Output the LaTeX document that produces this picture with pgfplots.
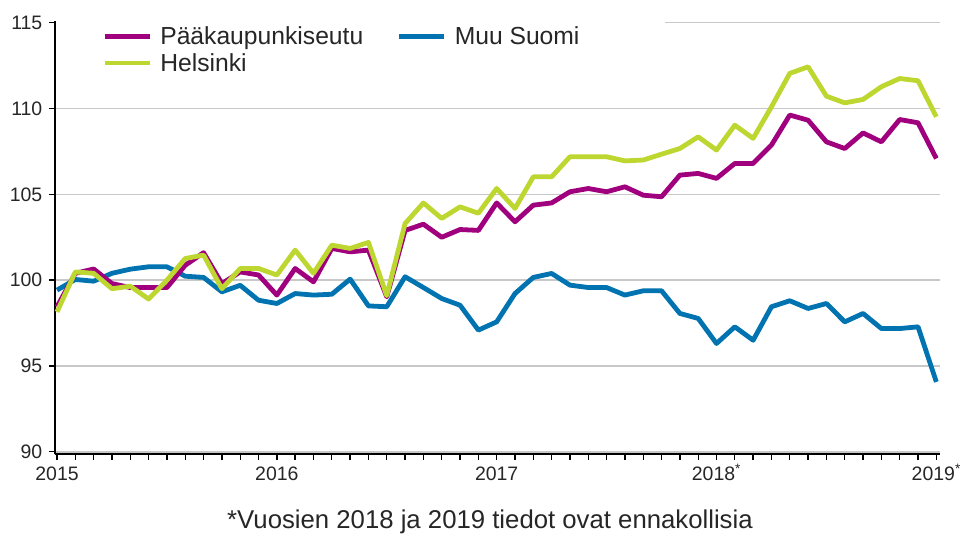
\documentclass[border=0pt]{standalone}
\usepackage{fontspec}
\setmainfont{Liberation Sans}
\usepackage{pgfplots}
\pgfplotsset{compat=1.18}
\definecolor{cPKS}{RGB}{160,0,125}
\definecolor{cHel}{RGB}{190,214,48}
\definecolor{cMuu}{RGB}{0,115,176}
\definecolor{cGrid}{RGB}{200,200,200}

\begin{document}
\begin{tikzpicture}
\useasboundingbox (0pt,0pt) rectangle (720.75pt,-402.75pt);
\begin{axis}[
  at={(41.25pt,-340.5pt)}, anchor=south west,
  scale only axis, width=663.75pt, height=324.75pt,
  xmin=-0.11, xmax=48.2, ymin=89.87, ymax=115.1,
  axis lines*=left,
  axis line style={line width=1.2pt, black, -},
  xtick={0,12,24,36,48},
  xticklabels={2015,2016,2017,2018\textsuperscript{*},2019\textsuperscript{*}},
  minor xtick={1,...,47},
  ytick={90,95,...,110},
  extra y ticks={115},
  extra y tick style={grid=none},
  ymajorgrids,
  grid style={cGrid, line width=1.1pt},
  tick align=outside,
  major tick length=4.5pt, minor tick length=4.5pt,
  tick style={black, line width=1pt},
  ticklabel style={font=\fontsize{14.6}{17}\selectfont, text=black!85},
  /pgf/number format/assume math mode=true,
  xticklabel style={yshift=-1pt, text height=11pt, text depth=1pt},
  yticklabel style={xshift=-1.5pt},
  legend columns=2,
  legend cell align=left,
  legend style={at={(0.05,1.0)}, anchor=north west, draw=none, fill=white,
    font=\fontsize{18.5}{20}\selectfont, column sep=4pt, row sep=1pt, inner sep=2pt,
    text=black!85,
    /tikz/every even column/.append style={column sep=23pt}},
  legend image code/.code={\draw[#1] (0pt,0pt) -- (34pt,0pt);},
]
\draw[cGrid, line width=1.1pt] (axis cs:33.2,115) -- (axis cs:48.2,115);

\addlegendimage{cPKS, line width=3.6pt}
\addlegendentry{Pääkaupunkiseutu}
\addlegendimage{cMuu, line width=3.6pt}
\addlegendentry{Muu Suomi}
\addlegendimage{cHel, line width=3.6pt}
\addlegendentry{Helsinki}

\addplot[cMuu, line width=3.6pt, forget plot, line join=round] table {
x y
0 99.42
1 100.04
2 99.94
3 100.4
4 100.64
5 100.78
6 100.78
7 100.23
8 100.16
9 99.32
10 99.7
11 98.83
12 98.64
13 99.22
14 99.13
15 99.18
16 100.06
17 98.5
18 98.45
19 100.2
20 99.57
21 98.93
22 98.54
23 97.09
24 97.57
25 99.22
26 100.16
27 100.39
28 99.71
29 99.57
30 99.57
31 99.13
32 99.38
33 99.38
34 98.06
35 97.77
36 96.31
37 97.28
38 96.5
39 98.45
40 98.8
41 98.35
42 98.64
43 97.57
44 98.06
45 97.18
46 97.18
47 97.28
48 94.07
};

\addplot[cPKS, line width=3.6pt, forget plot, line join=round] table {
x y
0 98.45
1 100.4
2 100.65
3 99.8
4 99.57
5 99.57
6 99.57
7 100.87
8 101.6
9 99.8
10 100.48
11 100.3
12 99.13
13 100.68
14 99.9
15 101.85
16 101.65
17 101.75
18 99.03
19 102.9
20 103.26
21 102.5
22 102.95
23 102.9
24 104.5
25 103.4
26 104.37
27 104.5
28 105.15
29 105.34
30 105.15
31 105.44
32 104.95
33 104.86
34 106.12
35 106.22
36 105.93
37 106.8
38 106.8
39 107.87
40 109.62
41 109.32
42 108.06
43 107.67
44 108.58
45 108.06
46 109.36
47 109.17
48 107.09
};

\addplot[cHel, line width=3.6pt, forget plot, line join=round] table {
x y
0 98.15
1 100.48
2 100.4
3 99.5
4 99.65
5 98.9
6 100.0
7 101.26
8 101.46
9 99.5
10 100.68
11 100.68
12 100.3
13 101.75
14 100.4
15 102.04
16 101.85
17 102.2
18 99.1
19 103.3
20 104.5
21 103.6
22 104.27
23 103.9
24 105.34
25 104.18
26 106.02
27 106.02
28 107.19
29 107.19
30 107.19
31 106.95
32 107.0
33 107.34
34 107.67
35 108.35
36 107.58
37 109.03
38 108.26
39 110.1
40 112.05
41 112.43
42 110.72
43 110.33
44 110.53
45 111.27
46 111.75
47 111.62
48 109.52
};
\end{axis}
\node[font=\fontsize{19.3}{22}\selectfont, text=black!85] at (367.5pt,-391.5pt) {*Vuosien 2018 ja 2019 tiedot ovat ennakollisia};
\end{tikzpicture}
\end{document}
